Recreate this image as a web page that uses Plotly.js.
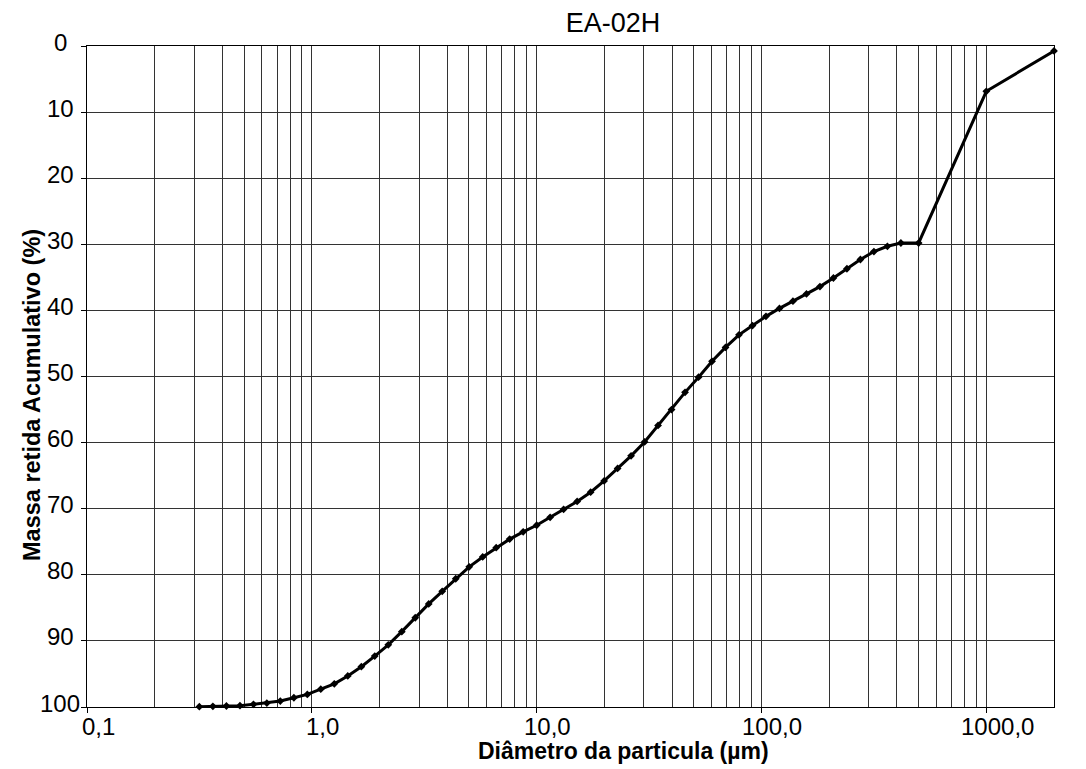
<!DOCTYPE html>
<html>
<head>
<meta charset="utf-8">
<script src="https://cdn.plot.ly/plotly-3.0.1.min.js"></script>
<style>
  html, body { margin: 0; padding: 0; background: #fff; }
  #chart { width: 1086px; height: 769px; }
</style>
</head>
<body>
<div id="chart"></div>
<script>
// Particle diameter (µm)
const diameters = [
  0.316, 0.363, 0.417, 0.479, 0.550, 0.631, 0.724, 0.832, 0.955, 1.096,
  1.259, 1.445, 1.660, 1.905, 2.188, 2.512, 2.884, 3.311, 3.802, 4.365,
  5.012, 5.754, 6.607, 7.586, 8.710, 10.00, 11.48, 13.18, 15.14, 17.38,
  19.95, 22.91, 26.30, 30.20, 34.67, 39.81, 45.71, 52.48, 60.26, 69.18,
  79.43, 91.20, 104.7, 120.2, 138.0, 158.5, 182.0, 208.9, 239.9, 275.4,
  316.2, 363.1, 416.9, 500, 1000, 2000
];
// Cumulative retained mass (%)
const retained = [
  99.95, 99.9, 99.85, 99.8, 99.6, 99.4, 99.1, 98.6, 98.1, 97.3,
  96.5, 95.3, 93.9, 92.3, 90.6, 88.6, 86.5, 84.4, 82.5, 80.6,
  78.8, 77.3, 75.9, 74.6, 73.5, 72.5, 71.3, 70.1, 68.9, 67.5,
  65.8, 63.9, 62.0, 59.9, 57.4, 55.0, 52.4, 50.1, 47.7, 45.6,
  43.7, 42.3, 40.9, 39.7, 38.6, 37.5, 36.4, 35.1, 33.7, 32.3,
  31.1, 30.3, 29.8, 29.8, 6.85, 0.75
];
// Axis ticks
const xTickVals = [0.1, 1, 10, 100, 1000];
const xTickText = ['0,1', '1,0', '10,0', '100,0', '1000,0'];
const xMinorVals = [0.2,0.3,0.4,0.5,0.6,0.7,0.8,0.9,
                    2,3,4,5,6,7,8,9,
                    20,30,40,50,60,70,80,90,
                    200,300,400,500,600,700,800,900,
                    2000];
const yTickVals = [0, 10, 20, 30, 40, 50, 60, 70, 80, 90, 100];
const yTickText = ['0', '10', '20', '30', '40', '50', '60', '70', '80', '90', '100'];

const FONT = '"Liberation Sans", Arial, Helvetica, sans-serif';
const GRID = '#333333';
const TICK_SIZE = 24;

const trace = {
  x: diameters,
  y: retained,
  type: 'scatter',
  mode: 'lines+markers',
  line: { color: '#000', width: 3 },
  marker: { symbol: 'diamond', size: 6, color: '#000' },
  cliponaxis: false,
  hoverinfo: 'x+y'
};

// Tick labels placed as annotations so they can sit where the reference puts them
const xLabelAnns = xTickVals.map((v, i) => ({
  text: xTickText[i],
  xref: 'x', yref: 'paper',
  x: Math.log10(v), y: 0,
  xanchor: 'center', yanchor: 'middle',
  xshift: 11, yshift: -19,
  showarrow: false,
  font: { family: FONT, size: TICK_SIZE, color: '#000' }
}));
const yLabelAnns = yTickVals.map((v, i) => ({
  text: yTickText[i],
  xref: 'paper', yref: 'y',
  x: 0, y: v,
  xanchor: 'center', yanchor: 'middle',
  xshift: -27, yshift: 4,
  showarrow: false,
  font: { family: FONT, size: TICK_SIZE, color: '#000' }
}));

const layout = {
  width: 1086,
  height: 769,
  margin: { l: 87, r: 32, t: 46, b: 62, pad: 0 },
  paper_bgcolor: '#fff',
  plot_bgcolor: '#fff',
  showlegend: false,
  font: { family: FONT, color: '#000', size: 23 },
  title: {
    text: 'EA-02H',
    font: { family: FONT, size: 27, color: '#000' },
    x: 0.544, xref: 'paper', xanchor: 'center',
    y: 22, yref: 'container', yanchor: 'middle'
  },
  xaxis: {
    type: 'log',
    range: [-1, Math.log10(2000)],
    tickmode: 'array',
    tickvals: xTickVals,
    ticktext: xTickText,
    showticklabels: false,
    ticks: 'outside',
    ticklen: 5,
    tickwidth: 1,
    tickcolor: '#000',
    showgrid: true,
    gridcolor: GRID,
    gridwidth: 1,
    minor: {
      tickmode: 'array',
      tickvals: xMinorVals,
      showgrid: true,
      gridcolor: GRID,
      gridwidth: 1,
      ticks: ''
    },
    showline: true,
    linecolor: '#000',
    linewidth: 1,
    mirror: true,
    zeroline: false,
    title: { text: '' }
  },
  yaxis: {
    range: [100, 0],
    tickmode: 'array',
    tickvals: yTickVals,
    showticklabels: false,
    ticks: 'outside',
    ticklen: 5,
    tickwidth: 1,
    tickcolor: '#000',
    showgrid: true,
    gridcolor: GRID,
    gridwidth: 1,
    showline: true,
    linecolor: '#000',
    linewidth: 1,
    mirror: true,
    zeroline: false,
    title: { text: '' }
  },
  annotations: xLabelAnns.concat(yLabelAnns, [
    {
      text: '<b>Diâmetro da particula (µm)</b>',
      xref: 'paper', yref: 'paper',
      x: 0.555, y: 0, xanchor: 'center', yanchor: 'middle',
      yshift: -44,
      showarrow: false,
      font: { family: FONT, size: 23, color: '#000' }
    },
    {
      text: '<b>Massa retida Acumulativo (%)</b>',
      xref: 'paper', yref: 'paper',
      x: 0, y: 0.472, xanchor: 'center', yanchor: 'middle',
      xshift: -55,
      textangle: -90,
      showarrow: false,
      font: { family: FONT, size: 23.5, color: '#000' }
    }
  ])
};

Plotly.newPlot('chart', [trace], layout, { displayModeBar: false, staticPlot: true });
</script>
</body>
</html>
